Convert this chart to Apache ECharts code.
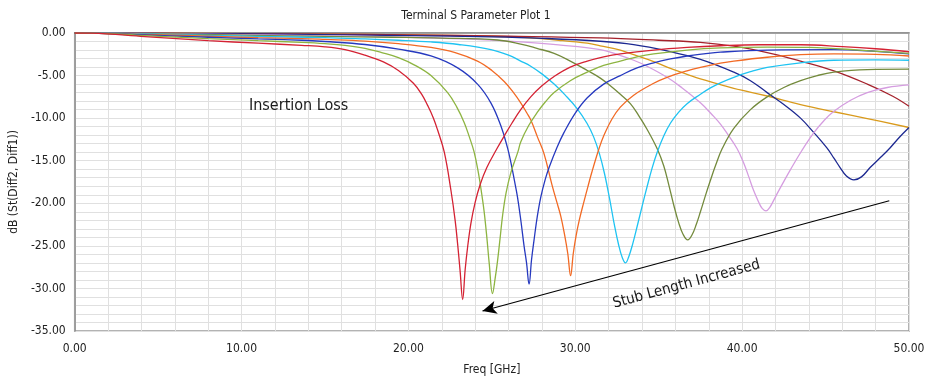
<!DOCTYPE html>
<html>
<head>
<meta charset="utf-8">
<script src="https://cdn.jsdelivr.net/npm/echarts@6/dist/echarts.min.js"></script>
<style>
html,body{margin:0;padding:0;background:#fff;}
#chart{width:928px;height:381px;}
</style>
</head>
<body>
<div id="chart"></div>
<script>
// ---- data (Freq [GHz], dB) ----
const sRed = [[0,0],[1,-0.02],[4.2,-0.42],[8,-0.9],[11,-1.2],[13.6,-1.45],[15,-1.62],[16.2,-1.95],[17.4,-2.6],[18.5,-3.4],[19.4,-4.4],[20.3,-5.9],[20.8,-7.2],[21.15,-8.5],[21.5,-10],[21.75,-11.4],[22.15,-14],[22.55,-18.5],[22.8,-22],[22.95,-24.8],[23.1,-28],[23.25,-31.3],[23.4,-27.8],[23.55,-25.1],[23.75,-22.3],[24.0,-19.9],[24.3,-17.8],[24.7,-15.8],[25.3,-13.6],[25.74,-12.1],[26.2,-10.6],[26.73,-9.0],[27.33,-7.5],[28,-6.2],[28.73,-5.1],[29.7,-4.0],[30.72,-3.3],[31.7,-2.8],[32.7,-2.45],[34.7,-2.0],[36.7,-1.7],[38.7,-1.5],[41,-1.38],[43.5,-1.38],[46,-1.6],[48,-1.85],[50,-2.2]];
const sGreen = [[0,0],[1,-0.01],[4.2,-0.3],[8,-0.65],[11,-0.9],[13.6,-1.1],[15,-1.25],[16.2,-1.45],[17.4,-1.8],[18.4,-2.3],[19.4,-2.9],[20.4,-3.8],[21.35,-5.0],[22.35,-7.0],[22.9,-8.7],[23.34,-10.5],[23.65,-12.2],[23.94,-14],[24.2,-16.5],[24.4,-19],[24.54,-21],[24.7,-24],[24.84,-27],[25.04,-30.6],[25.2,-28.8],[25.34,-26.8],[25.5,-24],[25.64,-21.5],[25.85,-18.8],[26.14,-16.4],[26.57,-13.9],[26.73,-12.8],[27.2,-10.9],[27.73,-9.3],[28.2,-8.1],[28.73,-7.0],[29.7,-5.6],[30.72,-4.6],[31.7,-3.8],[32.7,-3.3],[33.7,-2.8],[34.7,-2.45],[36.7,-2.0],[38.7,-1.75],[41.5,-1.65],[44,-1.7],[47,-2.0],[50,-2.4]];
const sBlue = [[0,0],[1,-0.01],[4.2,-0.22],[8,-0.5],[11,-0.7],[13.6,-0.85],[15,-1.0],[17.4,-1.35],[19.4,-1.9],[21.35,-2.7],[22.95,-4.1],[24.14,-6.0],[24.94,-8.2],[25.54,-10.9],[25.94,-13.5],[26.14,-15.2],[26.34,-17.2],[26.54,-19.3],[26.75,-22.2],[26.93,-25.0],[27.08,-27.0],[27.23,-29.5],[27.38,-26.6],[27.53,-24.3],[27.72,-21.6],[27.93,-19.3],[28.2,-17.2],[28.43,-15.8],[28.89,-13.5],[29.32,-11.7],[30.0,-9.4],[30.72,-7.6],[31.7,-6.0],[32.7,-5.0],[33.7,-4.1],[34.7,-3.5],[35.7,-3.05],[36.7,-2.7],[37.7,-2.45],[38.7,-2.25],[41.5,-2.0],[45.5,-1.95],[48,-2.15],[50,-2.45]];
const sOrange = [[0,0],[1,-0.01],[4.2,-0.15],[8,-0.38],[11,-0.55],[13.6,-0.65],[15,-0.75],[17.4,-0.95],[19.4,-1.25],[21.35,-1.7],[22.8,-2.3],[24.14,-3.3],[25.0,-4.4],[25.74,-5.7],[26.3,-7.0],[26.73,-8.2],[27.1,-9.4],[27.33,-10.2],[27.73,-12.2],[28.13,-14.2],[28.6,-17.8],[28.9,-19.9],[29.13,-21.5],[29.35,-23.6],[29.55,-25.9],[29.72,-28.5],[29.88,-25.9],[30.05,-23.8],[30.25,-21.9],[30.52,-19.8],[30.75,-18.1],[31.0,-16.3],[31.42,-13.6],[31.7,-12.1],[32.2,-10.1],[32.7,-8.7],[33.5,-7.3],[34.7,-5.9],[35.5,-5.2],[36.7,-4.45],[37.5,-4.05],[38.7,-3.55],[39.5,-3.3],[41.5,-2.85],[43.5,-2.55],[45.5,-2.45],[48,-2.5],[50,-2.7]];
const sCyan = [[0,0],[1,-0.01],[4.2,-0.1],[8,-0.28],[11,-0.4],[15,-0.55],[17.4,-0.7],[19.4,-0.85],[21.35,-1.05],[23,-1.35],[24.94,-1.95],[26.0,-2.6],[26.73,-3.3],[27.33,-3.9],[28.0,-4.8],[28.73,-6.0],[29.4,-7.3],[30.12,-8.9],[30.7,-10.6],[31.1,-12.2],[31.45,-14.2],[31.75,-16.5],[32.05,-19.4],[32.35,-22.6],[32.6,-24.9],[32.82,-26.4],[33.01,-27.0],[33.2,-26.3],[33.45,-24.7],[33.71,-22.7],[34.0,-20.4],[34.31,-18.0],[34.6,-15.9],[34.91,-14.0],[35.3,-12.1],[35.7,-10.6],[36.2,-9.3],[36.7,-8.3],[37.5,-7.2],[38.1,-6.45],[38.7,-5.85],[39.5,-5.2],[40.5,-4.55],[41.5,-4.05],[43.5,-3.5],[45.5,-3.2],[48,-3.15],[50,-3.2]];
const sOlive = [[0,0],[1,-0.01],[5,-0.1],[10,-0.25],[15,-0.4],[19,-0.5],[22,-0.6],[25.34,-0.82],[26.73,-1.3],[27.7,-1.8],[28.73,-2.4],[29.7,-3.3],[30.72,-4.4],[31.5,-5.3],[32.1,-6.2],[32.7,-7.2],[33.3,-8.3],[33.8,-9.7],[34.3,-11.3],[34.91,-13.6],[35.3,-15.6],[35.6,-17.8],[35.9,-20.2],[36.2,-22.3],[36.45,-23.6],[36.74,-24.3],[37.0,-23.7],[37.25,-22.5],[37.5,-21.0],[37.8,-19.1],[38.1,-17.3],[38.4,-15.6],[38.8,-13.6],[39.5,-11.2],[40.5,-9.0],[41.5,-7.5],[42.5,-6.4],[43.5,-5.6],[44.5,-5.0],[45.5,-4.6],[47.5,-4.3],[50,-4.25]];
const sViolet = [[0,0],[5,-0.08],[10,-0.2],[15,-0.33],[20,-0.5],[24,-0.75],[26.73,-1.05],[29,-1.4],[31.5,-1.95],[32.5,-2.5],[33.5,-3.2],[34.3,-3.9],[35.5,-5.2],[36.3,-6.3],[37.5,-8.2],[38.2,-9.6],[38.7,-10.7],[39.1,-11.8],[39.7,-13.6],[40.1,-15.3],[40.4,-16.9],[40.69,-18.5],[41.0,-19.9],[41.2,-20.6],[41.43,-20.9],[41.65,-20.5],[41.85,-19.8],[42.09,-18.9],[42.45,-17.6],[42.88,-16.1],[43.58,-13.8],[44.3,-11.7],[44.9,-10.3],[45.5,-9.2],[46.5,-7.9],[47.5,-7.0],[48.7,-6.4],[50,-6.1]];
const sNavy = [[0,0],[5,-0.04],[10,-0.1],[15,-0.2],[20,-0.3],[25,-0.45],[28,-0.62],[31.5,-0.97],[33.5,-1.36],[35.5,-2.1],[37.5,-3.1],[39.5,-4.6],[40.5,-5.6],[41.5,-7.0],[42.5,-8.4],[43.5,-10.0],[44.3,-11.7],[45.08,-13.5],[45.5,-14.7],[45.87,-15.8],[46.25,-16.8],[46.7,-17.25],[47.15,-16.9],[47.67,-15.8],[48.3,-14.6],[48.86,-13.5],[49.4,-12.3],[50,-11.1]];
const sDarkRed = [[0,0],[5,-0.03],[10,-0.08],[15,-0.14],[20,-0.22],[26,-0.38],[31.5,-0.58],[35,-0.85],[37.5,-1.1],[39.5,-1.55],[41.5,-2.3],[43.5,-3.3],[45.5,-4.45],[47.5,-6.0],[49,-7.4],[50,-8.6]];
const sGold = [[0,0],[5,-0.03],[10,-0.08],[15,-0.14],[20,-0.22],[25,-0.38],[27,-0.55],[29,-0.85],[30.72,-1.2],[31.5,-1.5],[32.7,-2.0],[33.5,-2.55],[34.7,-3.35],[35.5,-4.0],[36.7,-4.85],[37.5,-5.4],[38.7,-6.05],[39.5,-6.5],[41.5,-7.4],[43.5,-8.4],[45.5,-9.25],[47.5,-10.05],[50,-11.1]];

const xTicks = [0, 10, 20, 30, 40, 50];
const yTicks = [-35, -30, -25, -20, -15, -10, -5, 0];

// annotation anchors (data coordinates)
const arrowStart = [48.82, -19.7];
const arrowEnd = [24.44, -32.65];
const labelLineStart = [24.04, -32.86];
const labelLineEnd = [48.42, -19.91];

const seriesData = [sGold, sDarkRed, sNavy, sViolet, sOlive, sCyan, sOrange, sBlue, sGreen, sRed];
const seriesColors = ['#d99a1c', '#a5222c', '#1c2890', '#d59de0', '#738a3c', '#1ec3f2', '#f26a24', '#2639bf', '#8db441', '#d42233'];

const FONT = "'Liberation Sans Narrow','DejaVu Sans Condensed',sans-serif";

const chart = echarts.init(document.getElementById('chart'), null, {renderer: 'canvas'});

const series = seriesData.map((d, i) => ({
  type: 'line',
  data: d,
  showSymbol: false,
  smooth: 0.4,
  lineStyle: {color: seriesColors[i], width: 1.3},
  itemStyle: {color: seriesColors[i]},
  animation: false,
  silent: true
}));

// arrow
series.push({
  type: 'line',
  data: [],
  silent: true,
  animation: false,
  markLine: {
    silent: true,
    animation: false,
    symbol: ['none', 'arrow'],
    symbolSize: [10, 14],
    label: {show: false},
    lineStyle: {color: '#000', width: 1.2, type: 'solid'},
    data: [[{coord: arrowStart}, {coord: arrowEnd}]]
  }
});
// rotated annotation text, laid along the arrow
series.push({
  type: 'line',
  data: [],
  silent: true,
  animation: false,
  markLine: {
    silent: true,
    animation: false,
    symbol: ['none', 'none'],
    lineStyle: {color: 'rgba(0,0,0,0)', width: 0},
    label: {
      show: true,
      position: 'insideMiddleBottom',
      distance: 20,
      formatter: 'Stub Length Increased',
      fontFamily: FONT,
      fontSize: 15,
      color: '#1a1a1a'
    },
    data: [[{coord: labelLineStart}, {coord: labelLineEnd}]]
  }
});

chart.setOption({
  animation: false,
  backgroundColor: '#fff',
  title: [
    {
      text: 'Terminal S Parameter Plot 1',
      left: 476, top: 10, textAlign: 'center', padding: 0,
      textStyle: {fontFamily: FONT, fontSize: 12, fontWeight: 'normal', color: '#222'}
    },
    {
      text: 'Insertion Loss',
      left: 249, top: 98, padding: 0,
      textStyle: {fontFamily: FONT, fontSize: 16, fontWeight: 'normal', color: '#1a1a1a'}
    }
  ],
  grid: {left: 73, right: 19, top: 33, bottom: 46, show: true, borderColor: '#9a9a9a', borderWidth: 1.5},
  xAxis: {
    type: 'value',
    min: xTicks[0],
    max: xTicks[xTicks.length - 1],
    interval: 10,
    name: 'Freq [GHz]',
    nameLocation: 'middle',
    nameGap: 33,
    nameTextStyle: {fontFamily: FONT, fontSize: 12, color: '#222'},
    axisLine: {show: true, lineStyle: {color: '#8a8a8a', width: 1.5}},
    axisTick: {show: false},
    axisLabel: {fontFamily: FONT, fontSize: 12, color: '#222', margin: 12, formatter: v => v.toFixed(2)},
    splitLine: {show: true, lineStyle: {color: '#e0e0e0', width: 1}},
    minorTick: {show: false, splitNumber: 5},
    minorSplitLine: {show: true, lineStyle: {color: '#e0e0e0', width: 1}}
  },
  yAxis: {
    type: 'value',
    min: yTicks[0],
    max: yTicks[yTicks.length - 1],
    interval: 5,
    name: 'dB (St(Diff2, Diff1))',
    nameLocation: 'middle',
    nameRotate: 90,
    nameGap: 52,
    nameTextStyle: {fontFamily: FONT, fontSize: 12, color: '#222'},
    axisLine: {show: true, lineStyle: {color: '#8a8a8a', width: 1.5}},
    axisTick: {show: false},
    axisLabel: {fontFamily: FONT, fontSize: 12, color: '#222', margin: 9, formatter: v => v.toFixed(2)},
    splitLine: {show: true, lineStyle: {color: '#e0e0e0', width: 1}},
    minorTick: {show: false, splitNumber: 5},
    minorSplitLine: {show: true, lineStyle: {color: '#e0e0e0', width: 1}}
  },
  series: series
});
</script>
</body>
</html>
